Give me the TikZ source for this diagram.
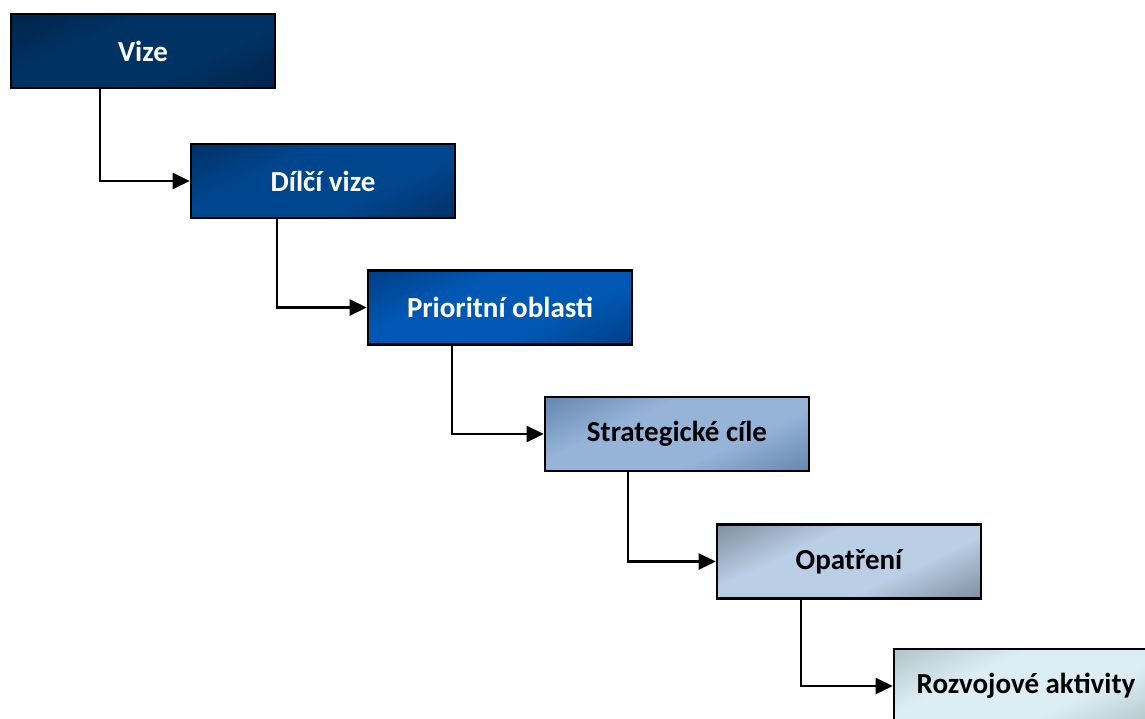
\documentclass[tikz,border=0pt]{standalone}
\usepackage{fontspec}
\setmainfont{Carlito}
\usetikzlibrary{arrows.meta}
\definecolor{m1}{RGB}{0,50,100}\definecolor{d1}{RGB}{0,24,52}
\definecolor{m2}{RGB}{0,70,142}\definecolor{d2}{RGB}{0,32,70}
\definecolor{m3}{RGB}{0,88,180}\definecolor{d3}{RGB}{0,42,95}
\definecolor{m4}{RGB}{150,180,216}\definecolor{d4}{RGB}{62,98,145}
\definecolor{m5}{RGB}{186,206,229}\definecolor{d5}{RGB}{82,92,106}
\definecolor{m6}{RGB}{220,238,244}\definecolor{d6}{RGB}{145,160,165}
\pgfdeclareverticalshading{sh1}{100bp}{color(0bp)=(d1); color(38bp)=(m1); color(62bp)=(m1); color(100bp)=(d1)}
\pgfdeclareverticalshading{sh2}{100bp}{color(0bp)=(d2); color(38bp)=(m2); color(62bp)=(m2); color(100bp)=(d2)}
\pgfdeclareverticalshading{sh3}{100bp}{color(0bp)=(d3); color(38bp)=(m3); color(62bp)=(m3); color(100bp)=(d3)}
\pgfdeclareverticalshading{sh4}{100bp}{color(0bp)=(d4); color(38bp)=(m4); color(62bp)=(m4); color(100bp)=(d4)}
\pgfdeclareverticalshading{sh5}{100bp}{color(0bp)=(d5); color(38bp)=(m5); color(62bp)=(m5); color(100bp)=(d5)}
\pgfdeclareverticalshading{sh6}{100bp}{color(0bp)=(d6); color(38bp)=(m6); color(62bp)=(m6); color(100bp)=(d6)}
\tikzset{
  box/.style={draw=black, line width=2.6pt, minimum width=264pt, minimum height=74pt,
    inner sep=0pt, font=\fontsize{29}{34}\selectfont\bfseries, shading angle=25},
  conn/.style={draw=black, line width=2.6pt, -{Triangle[length=17pt,width=16pt]}}
}
\begin{document}
\begin{tikzpicture}[x=1pt,y=-1pt]
\useasboundingbox (0,0) rectangle (1145,719);
\clip (0,0) rectangle (1145,719);
\node[box, shading=sh1, text=white] (b1) at (143,51) {Vize};
\node[box, shading=sh2, text=white] (b2) at (323,181) {Dílčí vize};
\node[box, shading=sh3, text=white] (b3) at (500,307.5) {Prioritní oblasti};
\node[box, shading=sh4, text=black] (b4) at (677,434) {Strategické cíle};
\node[box, shading=sh5, text=black] (b5) at (849,561.5) {Opatření};
\node[box, shading=sh6, text=black] (b6) at (1026,686) {Rozvojové aktivity};
\coordinate (c1) at (100,0); \coordinate (c2) at (277,0); \coordinate (c3) at (452,0);
\coordinate (c4) at (628,0); \coordinate (c5) at (801,0);
\draw[conn] (c1 |- b1.south) |- (b2.west);
\draw[conn] (c2 |- b2.south) |- (b3.west);
\draw[conn] (c3 |- b3.south) |- (b4.west);
\draw[conn] (c4 |- b4.south) |- (b5.west);
\draw[conn] (c5 |- b5.south) |- (b6.west);
\end{tikzpicture}
\end{document}
